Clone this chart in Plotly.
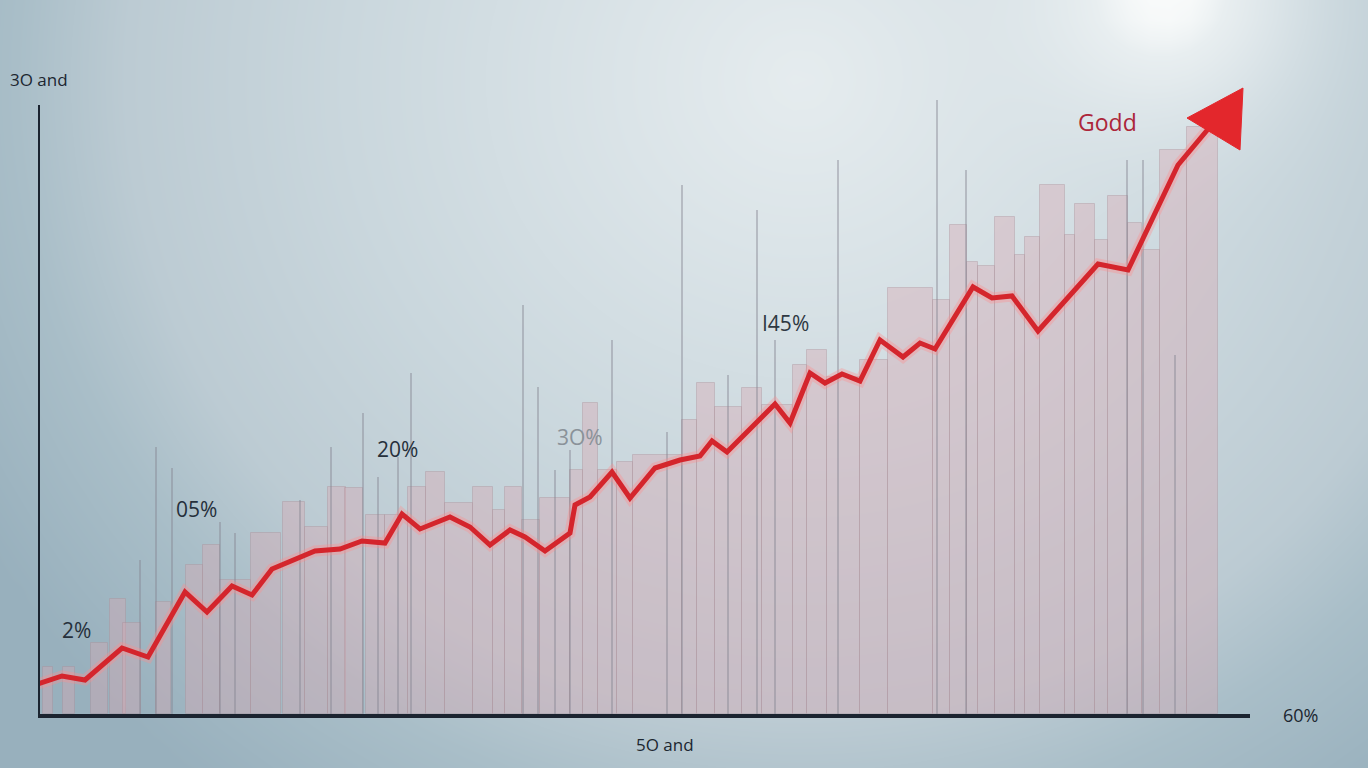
import numpy as np
import plotly.graph_objects as go

# ---------------- data ----------------
# red trend line: x position, value
line_x = [0, 2.4, 4.7, 8.4, 11.0, 14.7, 16.9, 19.4, 21.4, 23.4, 27.7, 30.2, 32.4, 34.7,
          36.4, 38.2, 41.2, 43.2, 45.2, 47.2, 48.7, 50.7, 53.2, 53.7, 55.2, 57.4, 59.2,
          61.7, 64.2, 66.2, 67.4, 68.9, 71.4, 73.7, 75.2, 77.2, 78.7, 80.4, 82.2, 84.2,
          86.5, 88.2, 89.7, 93.5, 95.4, 97.4, 100.0, 106.0, 109.0, 114.0, 117.6]
line_y = [3.0, 3.8, 3.4, 6.6, 5.7, 12.2, 10.2, 12.8, 11.9, 14.5, 16.3, 16.5, 17.3, 17.1,
          20.0, 18.5, 19.7, 18.7, 16.9, 18.4, 17.7, 16.3, 18.1, 20.9, 21.7, 24.2, 21.6,
          24.6, 25.4, 25.8, 27.3, 26.2, 28.7, 31.0, 29.1, 34.1, 33.1, 34.0, 33.3, 37.4,
          35.7, 37.1, 36.5, 42.7, 41.6, 41.8, 38.3, 45.0, 44.4, 54.9, 59.2]

# arrow head triangle (x, y)
head_x = [114.9, 120.5, 120.2, 114.9]
head_y = [59.6, 62.6, 56.4, 59.6]

# background bars: centre, width, height
bar_x = [1.0, 3.1, 6.15, 8.0, 9.4, 12.55, 15.65, 17.35, 19.75, 22.8, 25.6, 27.85, 29.9,
         31.6, 33.75, 35.85, 37.9, 39.75, 42.1, 44.5, 46.1, 47.55, 49.3, 51.7, 53.85,
         55.25, 56.95, 58.7, 61.95, 65.15, 66.8, 69.05, 71.4, 73.95, 76.2, 77.9, 80.55,
         83.6, 87.25, 90.35, 92.05, 93.45, 94.85, 96.7, 98.2, 99.45, 101.45, 103.2,
         104.7, 106.35, 108.0, 109.7, 111.3, 113.55, 116.45]
bar_w = [1.0, 1.2, 1.7, 1.6, 1.8, 1.5, 1.7, 1.7, 3.1, 3.0, 2.2, 2.3, 1.8, 1.8, 1.9, 2.3,
         1.8, 1.9, 2.8, 2.0, 1.2, 1.7, 1.8, 3.0, 1.3, 1.5, 1.9, 1.6, 4.9, 1.5, 1.8, 2.7,
         2.0, 3.1, 1.4, 2.0, 3.3, 2.8, 4.5, 1.7, 1.7, 1.1, 1.7, 2.0, 1.0, 1.5, 2.5, 1.0,
         2.0, 1.3, 2.0, 1.4, 1.8, 2.7, 3.1]
bar_h = [4.7, 4.7, 7.1, 11.5, 9.1, 11.2, 14.9, 16.9, 13.4, 18.1, 21.2, 18.7, 22.7, 22.6,
         19.9, 19.9, 22.7, 24.2, 21.1, 22.7, 20.4, 22.7, 19.4, 21.6, 24.4, 31.1, 24.4,
         25.2, 25.9, 29.4, 33.1, 30.7, 32.6, 30.9, 34.9, 36.4, 33.7, 35.4, 42.6, 41.4,
         48.9, 45.2, 44.8, 49.7, 45.9, 47.7, 52.9, 47.9, 51.0, 47.4, 51.8, 49.1, 46.4,
         56.4, 58.7]

# thin vertical grey lines: position, height
stick_x = [10.2, 11.8, 13.4, 18.2, 19.7, 26.2, 29.3, 32.5, 34.0, 36.0, 37.3, 48.5, 50.0,
           51.7, 53.2, 57.4, 62.9, 64.4, 69.0, 71.9, 73.7, 80.0, 89.9, 92.8, 108.9,
           110.5, 113.7]
stick_h = [15.4, 26.7, 24.6, 19.2, 18.1, 21.4, 26.7, 30.1, 23.7, 25.7, 34.1, 40.9, 32.7,
           24.4, 26.4, 37.4, 28.2, 52.9, 33.9, 50.4, 37.4, 55.4, 61.4, 54.4, 55.4, 55.4,
           35.9]

# value labels inside the chart
label_text = ["2%", "05%", "20%", "3O%", "I45%"]
label_x = [3.8, 15.8, 35.9, 54.2, 74.7]
label_y = [8.4, 20.5, 26.5, 27.7, 39.1]
label_color = ["#26303b", "#26303b", "#26303b", "#8a9299", "#2e3842"]

W, H = 1368, 768

# ---------------- background gradient ----------------
gx = np.linspace(0, W, 70)
gy = np.linspace(0, H, 40)
GX, GY = np.meshgrid(gx, gy)
d = np.sqrt(((GX - 800) / 950) ** 2 + ((GY - 80) / 900) ** 2)
z = 0.86 * (1 - np.clip(d, 0, 1))
z = z + 0.5 * np.exp(-((GX - 1180) ** 2 + (GY + 10) ** 2) / (2 * 90 ** 2))
z = np.clip(z, 0, 1)

fig = go.Figure()
fig.add_trace(go.Heatmap(
    x=gx, y=gy, z=z, zmin=0, zmax=1, zsmooth="best", showscale=False,
    hoverinfo="skip", xaxis="x", yaxis="y",
    colorscale=[[0, "#98b0bd"], [0.15, "#a9bec8"], [0.25, "#bccbd3"],
                [0.45, "#cad7dd"], [0.7, "#dbe4e8"], [0.9, "#e8eef0"], [1, "#f8fafa"]]))

# bars
fig.add_trace(go.Bar(
    x=bar_x, y=bar_h, width=bar_w, xaxis="x2", yaxis="y2",
    marker=dict(color="rgba(214,168,178,0.40)",
                line=dict(color="rgba(165,140,150,0.35)", width=1)),
    hoverinfo="skip"))

# thin sticks
sx, sy = [], []
for xv, hv in zip(stick_x, stick_h):
    sx += [xv, xv, None]
    sy += [0, hv, None]
fig.add_trace(go.Scatter(x=sx, y=sy, mode="lines", xaxis="x2", yaxis="y2",
                         line=dict(color="rgba(135,135,148,0.55)", width=1.6),
                         hoverinfo="skip"))

# glow + red line
fig.add_trace(go.Scatter(x=line_x, y=line_y, mode="lines", xaxis="x2", yaxis="y2",
                         line=dict(color="rgba(255,140,140,0.35)", width=11),
                         hoverinfo="skip"))
fig.add_trace(go.Scatter(x=line_x, y=line_y, mode="lines", xaxis="x2", yaxis="y2",
                         line=dict(color="#d4252c", width=5), hoverinfo="skip"))
fig.add_trace(go.Scatter(x=head_x, y=head_y, mode="lines", fill="toself", xaxis="x2",
                         yaxis="y2", fillcolor="#e3272c",
                         line=dict(color="#e3272c", width=1), hoverinfo="skip"))

# y axis line
fig.add_shape(type="line", xref="x2", yref="y2", x0=0, x1=0, y0=0, y1=60.9,
              line=dict(color="#1b2430", width=4))

# labels
for t, xv, yv, c in zip(label_text, label_x, label_y, label_color):
    fig.add_annotation(x=xv, y=yv, xref="x2", yref="y2", text=t, showarrow=False,
                       xanchor="center", yanchor="middle",
                       font=dict(family="Open Sans", size=21, color=c))
fig.add_annotation(x=106.9, y=59.2, xref="x2", yref="y2", text="Godd", showarrow=False,
                   xanchor="center", yanchor="middle",
                   font=dict(family="Open Sans", size=23, color="#ac263a"))
fig.add_annotation(x=8 / W, y=1 - 79 / H, xref="paper", yref="paper", text="3O and",
                   xanchor="left", yanchor="middle", showarrow=False,
                   font=dict(family="Open Sans", size=17, color="#1c2630"))
fig.add_annotation(x=665 / W, y=1 - 744 / H, xref="paper", yref="paper", text="5O and",
                   xanchor="center", yanchor="middle", showarrow=False,
                   font=dict(family="Open Sans", size=17, color="#1c2630"))
fig.add_annotation(x=1300 / W, y=1 - 715 / H, xref="paper", yref="paper", text="60%",
                   xanchor="center", yanchor="middle", showarrow=False,
                   font=dict(family="Open Sans", size=18, color="#1c2630"))

fig.update_layout(
    width=W, height=H, margin=dict(l=0, r=0, t=0, b=0),
    paper_bgcolor="#c9d6dc", plot_bgcolor="rgba(0,0,0,0)",
    showlegend=False, barmode="overlay", bargap=0,
    xaxis=dict(domain=[0, 1], range=[0, W], visible=False, fixedrange=True),
    yaxis=dict(domain=[0, 1], range=[H, 0], visible=False, fixedrange=True),
    xaxis2=dict(domain=[38 / W, 1250 / W], range=[0, 121.2], anchor="y2",
                showline=True, linecolor="#1b2430", linewidth=4, showgrid=False,
                zeroline=False, showticklabels=False, ticks=""),
    yaxis2=dict(domain=[54 / H, 708 / H], range=[0, 65.4], anchor="x2",
                showline=False, showgrid=False, zeroline=False, showticklabels=False,
                ticks=""),
)

fig.write_html("out.html", config={"displayModeBar": False},
               post_script="document.body.style.margin='0';document.body.style.overflow='hidden';")
